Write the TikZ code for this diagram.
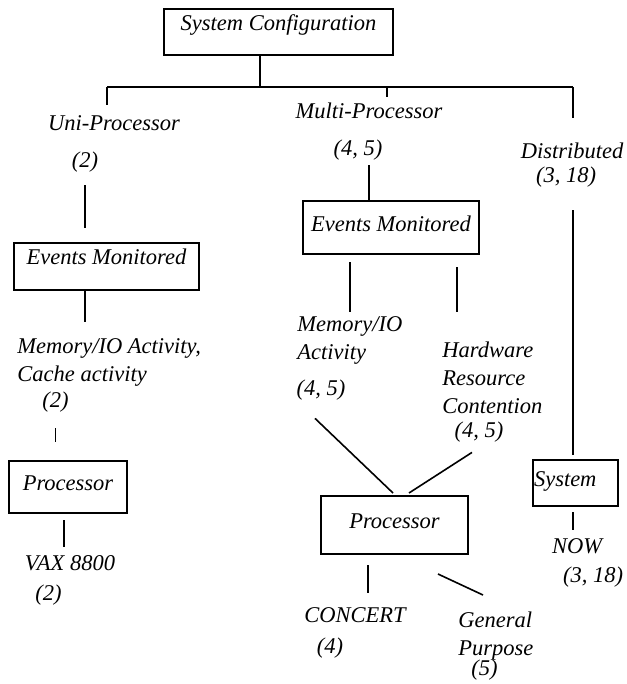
\documentclass[tikz,border=0pt]{standalone}
\usepackage{fontspec}
\setmainfont{Liberation Serif}
\usetikzlibrary{calc}

\begin{document}
\begin{tikzpicture}[x=0.5pt,y=-0.5pt]
	
	% INPUTS
	
	\newcommand{\diagfont}{\fontsize{11.25}{14}\selectfont\itshape};	% italic text everywhere
	
	% page frame, measured in pixels of the scan (y grows downwards)
	\useasboundingbox (0,0) rectangle (626,684);
	
	% styles
	\tikzstyle{box}=[draw,line width=1pt,inner sep=0pt,anchor=north west,font=\diagfont];
	\tikzstyle{lbl}=[inner sep=0pt,text height=8pt,text depth=2.5pt,font=\diagfont];
	\tikzstyle{lines}=[inner sep=0pt,anchor=north west,align=left,font=\diagfont];
	\tikzstyle{link}=[line width=0.8pt];
	
	% bus under the top box
	\coordinate (busL) at (107,87);
	\coordinate (busM) at (260,87);
	\coordinate (busT) at (387,87);
	\coordinate (busR) at (573,87);
	
	% boxes
	\node[box,minimum width=114.5pt,text height=10.9pt,text depth=12.1pt] (sys) at (163,8) {System Configuration};
	\node[box,minimum width=92.5pt,text height=10.9pt,text depth=12.6pt] (ev1) at (13,242) {Events Monitored};
	\node[box,minimum width=88pt,text height=15.4pt,text depth=11.1pt] (ev2) at (302,200) {Events Monitored};
	\node[box,minimum width=59pt,text height=14.9pt,text depth=11.1pt] (proc1) at (8,460) {Processor};
	\node[box,minimum width=73.5pt,text height=16.4pt,text depth=12.6pt] (proc2) at (320,495) {Processor};
	\node[box,text width=41.5pt,inner xsep=0.5pt,align=left,text height=13.4pt,text depth=9.6pt] (sysb) at (532,459) {System};
	
	% labels, left column
	\node[lbl] (uni) at (114,125) {Uni-Processor};
	\node[lbl] (unin) at (85,162) {(2)};
	\node[lines] (mem1) at (17,338) {Memory/IO Activity,\\Cache activity};
	\node[lbl] (mem1n) at (55.5,402) {(2)};
	\node[lbl] (vax) at (70,565) {VAX 8800};
	\node[lbl] (vaxn) at (48.5,595) {(2)};
	
	% labels, middle column
	\node[lbl] (multi) at (369,113) {Multi-Processor};
	\node[lbl] (multin) at (358,150) {(4, 5)};
	\node[lines] (mem2) at (297,316) {Memory/IO\\Activity};
	\node[lbl] (mem2n) at (321,390) {(4, 5)};
	\node[lines] (hw) at (442,341) {Hardware\\Resource\\Contention};
	\node[lbl] (hwn) at (479,432) {(4, 5)};
	\node[lbl] (concert) at (355,617) {CONCERT};
	\node[lbl] (concertn) at (330,648) {(4)};
	\node[lines] (gp) at (458,611) {General\\Purpose};
	\node[lbl] (gpn) at (484.5,670) {(5)};
	
	% labels, right column
	\node[lbl] (dist) at (572,153) {Distributed};
	\node[lbl] (distn) at (566,177) {(3, 18)};
	\node[lbl] (now) at (577,548) {NOW};
	\node[lbl] (nown) at (593,577) {(3, 18)};
	
	% the bus and its drops
	\draw[link] (sys.south -| busM) -- (busM);
	\draw[link] (busL) -- (busR);
	\draw[link,shorten >=4.75pt] (busL) -- (busL |- uni.north);
	\draw[link,shorten >=2.75pt] (busT) -- (busT |- multi.north);
	\draw[link,shorten >=12.25pt] (busR) -- (busR |- dist.north);
	
	% left column
	\draw[link,shorten <=6.25pt,shorten >=7pt] (unin.south) -- (unin.south |- ev1.north);
	\draw[link,shorten >=8pt] (ev1.south -| unin) -- (unin |- mem1.north);
	\draw[link,shorten <=7.75pt,shorten >=9pt] (mem1n.south) -- (mem1n.south |- proc1.north);
	\draw[link,shorten <=3pt,shorten >=3.75pt] ($(proc1.south)+(-4,0)$) coordinate (p1) -- (p1 |- vax.north);
	
	% middle column
	\draw[link,shorten <=2.25pt] (multi |- multin.south) -- (multi |- ev2.north);
	\draw[link,shorten <=3.5pt,shorten >=2pt] ($(ev2.south west)+(48,0)$) coordinate (e1) -- (e1 |- mem2.north);
	\draw[link,shorten <=6pt,shorten >=14.5pt] ($(ev2.south west)+(155,0)$) coordinate (e2) -- (e2 |- hw.north);
	\draw[link] ($(mem2n.south)+(-6,17.5)$) -- ($(proc2.north)+(-1.5,-2)$);
	\draw[link] ($(hwn.south)+(-7,9.5)$) -- ($(proc2.north)+(14.5,-2)$);
	\draw[link,shorten <=5pt,shorten >=6.75pt] ($(proc2.south west)+(48,0)$) coordinate (p2) -- (p2 |- concert.north);
	\draw[link] ($(proc2.south)+(43.5,19)$) -- ($(gp.north west)+(25,-16)$);
	
	% right column
	\draw[link,shorten <=11.25pt,shorten >=2pt] (busR |- distn.south) -- (busR |- sysb.north);
	\draw[link,shorten <=2.5pt,shorten >=3.75pt] (busR |- sysb.south) -- (busR |- now.north);
	
\end{tikzpicture}
\end{document}
